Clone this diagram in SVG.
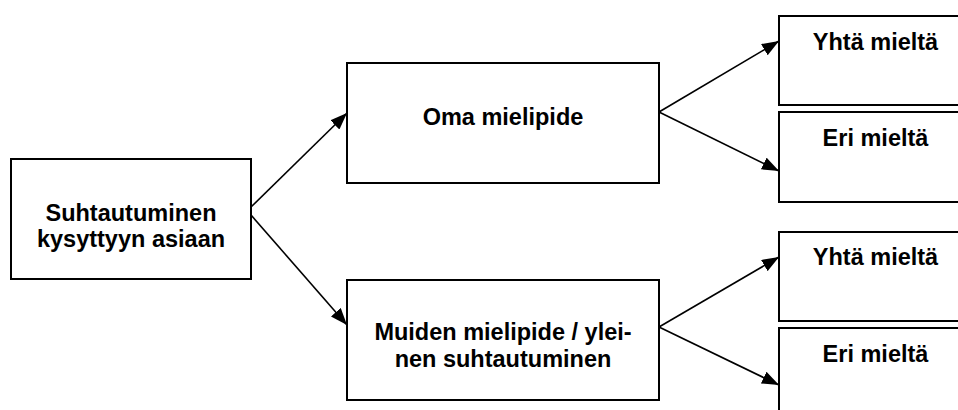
<svg xmlns="http://www.w3.org/2000/svg" width="958" height="410" viewBox="0 0 958 410">
<style>
.box{fill:#fff;stroke:#000;stroke-width:2}
.lbl{font-family:"Liberation Sans",Arial,sans-serif;font-weight:bold;font-size:23.5px;fill:#000;text-anchor:middle}
.conn{stroke:#000;stroke-width:1.6;fill:none}
</style>
<defs>
<marker id="arr" markerUnits="userSpaceOnUse" markerWidth="17" markerHeight="13" refX="17" refY="6.5" orient="auto">
<path d="M0,0 L17,6.5 L0,13 z" fill="#000"/>
</marker>
</defs>
<rect width="958" height="410" fill="#fff"/>
<g id="n-suhtautuminen">
<rect class="box" x="11" y="159" width="240" height="120"/>
<text class="lbl" x="131" y="221">Suhtautuminen</text>
<text class="lbl" x="131" y="247">kysyttyyn asiaan</text>
</g>
<g id="n-oma">
<rect class="box" x="347" y="63" width="312" height="120"/>
<text class="lbl" x="503" y="125">Oma mielipide</text>
</g>
<g id="n-muiden">
<rect class="box" x="347" y="280" width="312" height="120"/>
<text class="lbl" x="503" y="340">Muiden mielipide / ylei-</text>
<text class="lbl" x="503" y="367">nen suhtautuminen</text>
</g>
<g id="n-yhta1">
<rect class="box" x="779" y="16" width="193" height="89"/>
<text class="lbl" x="875.5" y="50">Yhtä mieltä</text>
</g>
<g id="n-eri1">
<rect class="box" x="779" y="112" width="193" height="90"/>
<text class="lbl" x="875.5" y="146">Eri mieltä</text>
</g>
<g id="n-yhta2">
<rect class="box" x="779" y="232" width="193" height="89"/>
<text class="lbl" x="875.5" y="265">Yhtä mieltä</text>
</g>
<g id="n-eri2">
<rect class="box" x="779" y="328" width="193" height="100"/>
<text class="lbl" x="875.5" y="362">Eri mieltä</text>
</g>
<g id="connectors">
<line class="conn" x1="251" y1="207" x2="347" y2="113" marker-end="url(#arr)"/>
<line class="conn" x1="251" y1="215" x2="347" y2="325" marker-end="url(#arr)"/>
<line class="conn" x1="659" y1="112" x2="779" y2="41" marker-end="url(#arr)"/>
<line class="conn" x1="659" y1="112" x2="779" y2="171" marker-end="url(#arr)"/>
<line class="conn" x1="659" y1="327" x2="779" y2="257" marker-end="url(#arr)"/>
<line class="conn" x1="659" y1="327" x2="779" y2="385" marker-end="url(#arr)"/>
</g>
</svg>
